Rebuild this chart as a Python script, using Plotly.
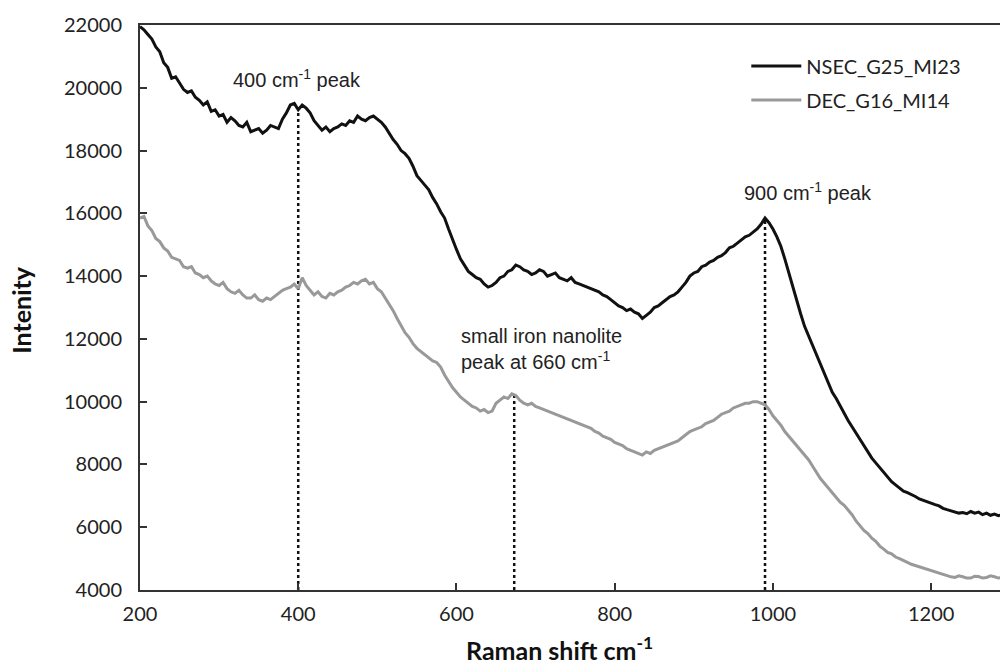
import numpy as np
import plotly.graph_objects as go

# Raman shift axis (cm^-1), 5 cm^-1 steps
raman_shift = list(range(200, 1291, 5))

# NSEC_G25_MI23 spectrum intensity
nsec_g25_mi23 = [
    21950, 21850, 21700, 21550, 21300, 21150, 20800, 20650, 20300, 20350,
    20150, 19950, 19850, 19900, 19700, 19600, 19450, 19550, 19250, 19300,
    19100, 19150, 18900, 19050, 18950, 18800, 18750, 18900, 18600, 18650,
    18700, 18550, 18650, 18800, 18750, 18700, 19000, 19200, 19450, 19500,
    19300, 19450, 19350, 19200, 18950, 18800, 18650, 18750, 18600, 18700,
    18750, 18850, 18800, 18950, 18900, 19100, 19000, 18950, 19050, 19100,
    19000, 18900, 18750, 18550, 18350, 18200, 18000, 17900, 17750, 17500,
    17200, 17050, 16900, 16750, 16500, 16300, 16050, 15850, 15500, 15150,
    14850, 14550, 14350, 14150, 14050, 13950, 13900, 13750, 13650, 13700,
    13800, 13950, 14000, 14150, 14200, 14350, 14300, 14200, 14150, 14050,
    14100, 14200, 14150, 14000, 14050, 14100, 13950, 13900, 13850, 13950,
    13800, 13750, 13700, 13650, 13600, 13550, 13500, 13400, 13350, 13250,
    13150, 13050, 13000, 12900, 12950, 12850, 12800, 12650, 12750, 12850,
    13000, 13050, 13150, 13250, 13350, 13400, 13500, 13650, 13800, 14000,
    14100, 14150, 14300, 14350, 14450, 14500, 14600, 14650, 14750, 14900,
    14950, 15050, 15150, 15250, 15300, 15400, 15500, 15650, 15850, 15700,
    15500, 15250, 14950, 14550, 14100, 13650, 13200, 12800, 12400, 12100,
    11800, 11450, 11150, 10850, 10550, 10300, 10100, 9850, 9650, 9400,
    9200, 9000, 8800, 8600, 8400, 8200, 8050, 7900, 7750, 7600,
    7450, 7350, 7250, 7150, 7100, 7050, 6980, 6900, 6850, 6800,
    6750, 6720, 6680, 6600, 6560, 6520, 6500, 6450, 6470, 6430,
    6500, 6450, 6480, 6400, 6450, 6380, 6420, 6370, 6400,
]

# DEC_G16_MI14 spectrum intensity
dec_g16_mi14 = [
    15850, 15900, 15600, 15450, 15200, 15100, 14900, 14800, 14600, 14550,
    14500, 14300, 14250, 14300, 14100, 14050, 13950, 14000, 13850, 13750,
    13700, 13800, 13600, 13500, 13450, 13550, 13400, 13300, 13300, 13400,
    13250, 13200, 13300, 13250, 13350, 13450, 13550, 13600, 13650, 13750,
    13600, 13950, 13700, 13550, 13400, 13500, 13350, 13300, 13450, 13400,
    13500, 13550, 13650, 13700, 13800, 13750, 13850, 13900, 13750, 13800,
    13600, 13500, 13300, 13100, 12900, 12650, 12400, 12200, 12050, 11850,
    11700, 11600, 11500, 11400, 11300, 11250, 11100, 10850, 10650, 10450,
    10300, 10150, 10050, 9950, 9850, 9800, 9700, 9750, 9650, 9700,
    9950, 10050, 10150, 10100, 10250, 10200, 10050, 9950, 9900, 9950,
    9850, 9800, 9750, 9700, 9650, 9600, 9550, 9500, 9450, 9400,
    9350, 9300, 9250, 9200, 9150, 9050, 9000, 8900, 8850, 8800,
    8700, 8650, 8600, 8500, 8450, 8400, 8350, 8300, 8400, 8350,
    8450, 8500, 8550, 8600, 8650, 8700, 8750, 8850, 8950, 9050,
    9100, 9150, 9200, 9300, 9350, 9400, 9500, 9600, 9650, 9700,
    9800, 9850, 9900, 9950, 9950, 10000, 10000, 9950, 9900, 9750,
    9550, 9400, 9250, 9050, 8900, 8750, 8600, 8450, 8300, 8150,
    7950, 7750, 7550, 7400, 7250, 7100, 6950, 6800, 6700, 6550,
    6400, 6200, 6050, 5900, 5800, 5650, 5550, 5400, 5300, 5200,
    5150, 5050, 5000, 4950, 4880, 4820, 4780, 4740, 4700, 4660,
    4620, 4580, 4550, 4500, 4450, 4420, 4400, 4450, 4420, 4380,
    4380, 4440, 4430, 4380, 4400, 4450, 4420, 4380, 4400,
]

# Marked peak positions and the spectrum each marker rises to
peak_shift = [400, 673, 990]
peak_series = ["nsec", "dec", "nsec"]

y_ticks = list(range(4000, 22001, 2000))
y_tick_text = [str(v) for v in y_ticks]
x_ticks = list(range(200, 1201, 200))

series = {"nsec": nsec_g25_mi23, "dec": dec_g16_mi14}

fig = go.Figure()

# dotted peak markers, from the axis floor up to the spectrum
for xs, key in zip(peak_shift, peak_series):
    top = float(np.interp(xs, raman_shift, series[key]))
    fig.add_trace(go.Scatter(
        x=[xs, xs], y=[4000, top], mode="lines",
        line=dict(color="#111111", width=2.5, dash="dot"),
        showlegend=False, hoverinfo="skip",
    ))

fig.add_trace(go.Scatter(
    x=raman_shift, y=nsec_g25_mi23, mode="lines", name="NSEC_G25_MI23",
    legendgroup="a", line=dict(color="#111111", width=3),
))
fig.add_trace(go.Scatter(
    x=raman_shift, y=dec_g16_mi14, mode="lines", name="DEC_G16_MI14",
    legendgroup="b", line=dict(color="#999999", width=3),
))

sans = "Lato, 'Open Sans', sans-serif"
tick_font = dict(family=sans, size=20, color="#222222")
note_font = dict(family="'Liberation Sans', Arial, sans-serif", size=20, color="#222222")
title_font = dict(family=sans, size=25, color="#111111", weight="bold")

fig.update_layout(
    width=1000, height=665,
    margin=dict(l=140, r=0, t=25, b=75),
    paper_bgcolor="white", plot_bgcolor="white",
    showlegend=True,
    legend=dict(
        x=0.705, y=0.962, xanchor="left", yanchor="top",
        font=dict(family=sans, size=20, color="#222222"),
        bgcolor="rgba(0,0,0,0)", itemwidth=50, tracegroupgap=5,
    ),
    xaxis=dict(
        range=[200, 1287], tickvals=x_ticks, ticks="inside", ticklen=7,
        tickcolor="#333333", tickwidth=1.5, ticklabelstandoff=5,
        showline=True, linecolor="#333333", linewidth=2, mirror=True,
        showgrid=False, zeroline=False, tickfont=tick_font,
    ),
    yaxis=dict(
        range=[4000, 22000], tickvals=y_ticks, ticktext=y_tick_text,
        ticks="inside", ticklen=7, ticklabelstandoff=12,
        tickcolor="#333333", tickwidth=1.5,
        showline=True, linecolor="#333333", linewidth=2,
        showgrid=False, zeroline=False, tickfont=tick_font,
    ),
    annotations=[
        dict(xref="paper", yref="paper", x=0.488, y=-0.1027,
             text="Raman shift cm<sup>-1</sup>", showarrow=False,
             xanchor="center", yanchor="middle", font=title_font),
        dict(xref="paper", yref="paper", x=-0.138, y=0.495,
             text="Intenity", showarrow=False, textangle=-90,
             xanchor="center", yanchor="middle", font=title_font),
        dict(x=398, y=20280, text="400 cm<sup>-1</sup> peak", showarrow=False,
             xanchor="center", yanchor="middle", font=note_font),
        dict(x=1044, y=16700, text="900 cm<sup>-1</sup> peak", showarrow=False,
             xanchor="center", yanchor="middle", font=note_font),
        dict(x=603, y=11690, text="small iron nanolite<br>peak at 660 cm<sup>-1</sup>",
             showarrow=False, xanchor="left", yanchor="middle", align="left",
             font=note_font),
    ],
)

fig.write_html("out.html")
